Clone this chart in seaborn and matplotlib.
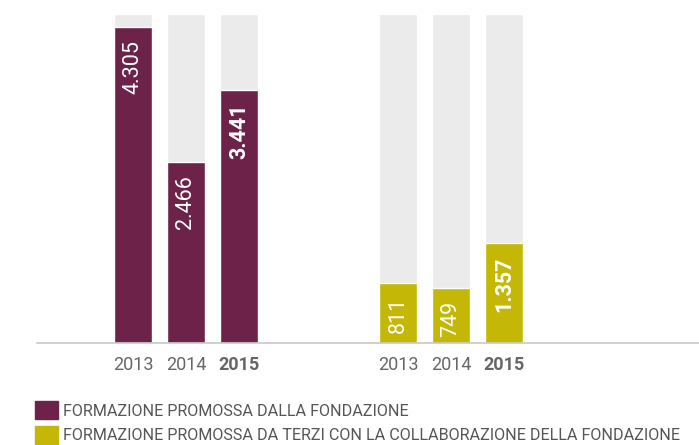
import matplotlib
matplotlib.use("Agg")
import matplotlib.pyplot as plt
from matplotlib.patches import Patch
import seaborn as sns
import pandas as pd

# data
years = ["2013", "2014", "2015"]
fondazione = [4305, 2466, 3441]
terzi = [811, 749, 1357]
full_value = 4480  # height of the grey background bars
legend_labels = ["FORMAZIONE PROMOSSA DALLA FONDAZIONE",
                 "FORMAZIONE PROMOSSA DA TERZI CON LA COLLABORAZIONE DELLA FONDAZIONE"]

purple = "#6d2249"
yellow = "#c4b705"
grey_bg = "#ebebeb"
text_grey = "#666666"

sns.set_theme(style="white")
plt.rcParams["font.family"] = ["Roboto", "DejaVu Sans"]

# x positions: two groups of three bars
pos = [0, 1, 2, 5, 6, 7]
df = pd.DataFrame({
    "pos": pos,
    "year": years + years,
    "value": fondazione + terzi,
    "serie": ["fondazione"] * 3 + ["terzi"] * 3,
})
df["full"] = full_value

fig = plt.figure(figsize=(6.99, 4.45), dpi=100)
ax = fig.add_axes([37 / 699, 102 / 445, 662 / 699, 343 / 445])

bw = 0.717
sns.barplot(data=df, x="pos", y="full", native_scale=True, width=bw,
            color=grey_bg, saturation=1, ax=ax, errorbar=None)
sns.barplot(data=df, x="pos", y="value", hue="serie", native_scale=True, width=bw,
            palette={"fondazione": purple, "terzi": yellow}, saturation=1,
            ax=ax, errorbar=None, legend=False, dodge=False)

for p, v, y in zip(df["pos"], df["value"], df["year"]):
    lab = f"{v:,}".replace(",", ".")
    ax.text(p, v - 180, lab, rotation=90, ha="center", va="top", color="white",
            fontsize=15.5, fontweight="bold" if y == "2015" else "normal")

ax.set_xlim(-1.81, 10.68)
ax.set_ylim(0, 4673)
ax.set_xticks(pos)
ax.set_xticklabels(years + years)
for t, y in zip(ax.get_xticklabels(), years + years):
    t.set_color(text_grey)
    t.set_fontsize(13)
    if y == "2015":
        t.set_fontweight("bold")
ax.tick_params(axis="x", length=0, pad=9)
ax.set_yticks([])
ax.set_xlabel("")
ax.set_ylabel("")
sns.despine(ax=ax, left=True, top=True, right=True)
ax.spines["bottom"].set_color("#c8c8c8")
ax.spines["bottom"].set_linewidth(1.2)

handles = [Patch(color=purple), Patch(color=yellow)]
fig.legend(handles, legend_labels, loc="upper left", bbox_to_anchor=(0.05, 0.098),
           frameon=False, handlelength=1.4, handleheight=1.3, handletextpad=0.35,
           labelspacing=0.45, borderpad=0, borderaxespad=0, fontsize=11.6,
           labelcolor="#555555")

fig.savefig("out.png", dpi=100)
